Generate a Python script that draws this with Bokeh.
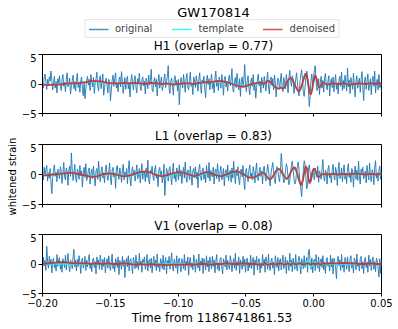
from bokeh.plotting import figure
from bokeh.layouts import column, row
from bokeh.models import Range1d, FixedTicker, Legend, LegendItem, Label
from bokeh.embed import file_html
from bokeh.resources import INLINE
import numpy as np

FONT = "DejaVu Sans"

suptitle = "GW170814"
detectors = ["H1", "L1", "V1"]
overlaps = [0.77, 0.83, 0.08]
legend_labels = ["original", "template", "denoised"]
x_label = "Time from 1186741861.53"
y_label = "whitened strain"
x_ticks = [-0.20, -0.15, -0.10, -0.05, 0.00, 0.05]
x_tick_labels = ["\u22120.20", "\u22120.15", "\u22120.10", "\u22120.05", "0.00", "0.05"]
y_ticks = [-5, 0, 5]
y_tick_labels = ["\u22125", "0", "5"]
t_start, t_end = -0.20, 0.05

# original (whitened) strain samples, evenly spaced from t_start to t_end
orig_H1 = [
    0.3, -0.6, 1.1, 1.7, 0.4, -0.9, 0.8, -0.3, 1.2, 0.5, 2.2, 0.6, -1.0, 0.2, 1.3, -0.7, 0.4, -1.5, 0.9, 0.1,
    1.4, -0.2, -1.1, 0.7, 1.6, -0.4, 0.3, -1.3, 0.8, 1.9, -0.5, 0.2, 1.0, -1.7, -0.3, 0.6, 1.5, -0.8, 0.4, -1.2,
    0.9, 1.8, -0.6, 0.1, -1.4, 0.5, 1.2, -0.9, -2.0, 0.3, -2.5, -0.7, 0.6, 1.3, -0.2, 0.8, -1.1, 1.6, 0.4, -0.5,
    1.1, -1.6, 0.2, 0.9, 2.0, -0.4, -1.2, 0.7, 1.4, -0.8, 0.3, 1.7, -1.9, -0.6, 0.5, 1.0, -0.3, -1.5, 0.8, 0.2,
    -2.8, -1.0, 0.6, 1.5, -0.4, 0.9, 1.9, -0.7, 0.2, -1.3, 0.7, 1.2, -0.5, 2.1, 0.4, -1.6, -0.2, 1.1, -0.9, 0.6,
    1.3, -0.8, 0.3, -2.2, 0.5, 1.6, 0.1, -1.0, 0.8, 1.4, -0.6, -1.5, 0.9, 0.2, 1.8, -0.4, -1.1, 0.7, 1.2, -0.3,
    0.5, -1.7, 1.0, 0.3, -0.8, 1.5, -0.2, 0.6, 2.5, -0.9, -1.3, 0.4, 1.1, -0.5, 0.8, -2.0, 0.2, 1.6, -0.7, 0.3,
    1.2, -1.1, -0.4, 0.9, 1.7, -0.6, 0.4, 1.3, 3.1, -0.8, -1.6, 0.5, 1.0, -0.3, -1.9, 0.7, 1.4, -0.2, 0.6, -1.2,
    0.8, -3.5, -0.9, 1.1, 0.3, -0.7, 1.6, 0.2, -1.4, 0.9, 1.8, -0.5, -1.0, 0.6, 2.0, -0.4, 0.1, -1.8, 1.2, 0.5,
    -0.6, 1.4, 0.3, -1.2, 0.8, 1.9, -0.3, -1.6, 0.7, 0.2, 1.3, -0.9, -2.3, 0.5, 1.5, -0.1, 0.9, -1.0, 0.4, 1.7,
    -0.8, 0.3, -1.5, 1.0, 2.2, -0.4, 0.6, -1.1, 1.2, 0.1, -0.7, 1.6, 0.4, -1.9, 0.8, 1.3, -0.5, 0.2, -1.2, 0.9,
    1.5, -0.3, 0.7, 2.6, -0.9, -1.4, 0.5, 1.1, -0.6, 1.8, 0.2, -1.0, 0.9, -2.1, 0.4, 1.2, -0.5, 0.8, 3.3, -0.2,
    -1.3, 0.6, 1.4, -0.8, -1.8, 0.3, 1.0, -0.4, 1.6, -1.1, 0.2, -2.4, -0.6, 0.9, 1.7, -0.3, 0.5, -1.5, 1.1, 0.4,
    -0.7, 1.3, 0.1, -1.2, 0.8, 2.0, -0.5, -1.7, 0.6, 1.2, -0.2, 0.9, -1.0, 1.5, 0.3, -2.2, -0.4, 1.0, 0.7, -0.9,
    0.5, 1.8, -0.6, -1.3, 1.1, 0.2, -0.8, 1.6, 0.4, -1.5, 0.9, 2.3, 0.6, -0.4, 1.4, 0.8, -1.6, -0.3, 0.7, 1.9,
    0.4, -1.2, -2.0, 0.3, 1.5, 2.4, 0.9, -1.4, -2.1, -0.5, 1.2, 2.2, 1.6, -0.9, -3.8, -2.0, 0.6, 1.7, -0.3, 0.8,
    2.4, 3.1, 0.5, -1.1, -0.6, 0.9, -1.8, 0.3, 1.3, -0.7, 0.6, -1.4, 1.0, 1.8, -0.2, -1.0, 0.5, 1.4, -2.0, 0.2,
    0.9, -0.6, 1.2, -1.3, 0.4, 1.6, -0.9, 0.2, -1.7, 0.8, 1.3, -0.4, 2.0, -1.1, 0.6, -0.8, 1.5, 0.3, -1.2, 2.7,
    -0.5, 0.7, -1.6, 1.1, 0.2, -0.9, 1.8, -0.3, -2.2, 0.6, 1.4, -0.7, 0.3, 1.0, -1.4, 0.8, 2.1, -0.5, -2.8, 0.4,
    1.2, -0.9, 0.5, 1.7, -1.1, -0.2, 0.9, -1.8, 0.6, 1.3, -0.4, 2.2, -1.5, 0.3, 0.8, -1.0, 1.6, -0.6, 0.2, -1.3,
]
orig_L1 = [
    0.5, -0.9, 1.2, -0.2, 0.7, 1.5, -1.1, 0.3, -0.6, 1.0, -1.4, -3.2, -0.5, 0.8, 1.6, -0.3, 0.4, -1.2, 0.9, 0.2,
    -0.7, 1.3, 0.6, -1.5, 0.1, 2.0, -0.4, -0.9, 1.1, 0.5, -1.8, 0.7, 1.4, -0.3, 3.6, 0.8, -1.0, 0.2, 1.7, -0.6,
    -1.3, 0.9, 0.4, -0.8, 1.5, -0.2, 0.6, -2.1, 0.3, 1.2, -0.5, 1.8, -1.0, -0.4, 0.7, 1.1, -1.6, 0.2, 0.9, -0.7,
    1.4, -0.3, -1.9, 0.6, 1.0, -0.8, 2.2, 0.1, -1.2, 0.5, 1.3, -0.6, 0.3, -1.4, 0.8, 1.6, -0.2, -1.0, 0.4, 1.9,
    -0.5, -1.7, 0.7, 1.2, -0.4, 0.3, -2.3, 0.9, 1.5, -0.1, -0.8, 1.1, 0.2, -1.3, 0.6, 1.7, -0.9, 0.4, -0.3, 1.0,
    -1.5, 0.8, 2.3, -0.6, -1.9, 0.5, 1.3, -0.2, 0.7, -1.1, 0.4, 1.6, -0.7, -0.3, 1.0, -1.4, 0.2, 1.8, -0.8, 0.6,
    0.3, -1.2, 1.1, -0.5, 2.4, -0.9, -1.6, 0.7, 0.2, 1.4, -0.4, -1.0, 0.9, 1.5, -0.6, 0.1, -2.0, 0.8, 1.2, -0.3,
    0.6, -1.4, -0.5, 1.7, -3.5, -0.8, 1.0, 0.4, -1.1, 0.9, 1.3, -0.2, -1.7, 0.5, 1.9, -0.7, 0.3, -1.2, 1.1, 0.4,
    -0.9, 1.6, -0.3, 0.7, -1.5, 0.2, 1.2, -0.6, 2.1, -0.4, -1.3, 0.8, 0.5, -0.9, 1.4, -0.1, -1.8, 0.6, 1.0, -0.5,
    1.3, -0.7, 0.4, -2.2, 0.9, 1.7, -0.3, -1.0, 0.6, 1.1, -0.8, 0.3, -1.4, 1.5, 0.2, -0.6, 2.0, -1.1, 0.7, -0.2,
    -0.4, 1.2, -1.6, 0.5, 0.9, -0.7, 1.8, 0.1, -1.2, 0.6, 1.4, -0.9, -0.3, 1.0, -1.9, 0.4, 0.8, -0.5, 1.6, -1.0,
    0.2, 0.7, -1.3, 1.1, -0.6, 2.2, 0.3, -1.5, 0.8, -0.2, 1.3, -0.8, -1.7, 0.6, 0.9, -0.4, 1.5, -1.1, -2.5, 0.5,
    1.0, -0.3, -1.2, 0.8, 1.6, -0.5, 0.2, -0.9, 1.3, 0.4, -1.4, 0.7, 1.9, -0.6, -1.0, 0.5, 1.2, -0.3, 0.6, -1.6,
    0.9, 1.4, -0.4, -1.1, 0.3, 1.7, 0.8, -0.7, -1.9, 0.2, 1.1, 2.0, 0.6, -0.8, -1.5, 0.4, 1.3, 0.7, -0.5, -1.2,
    0.5, 3.5, 1.6, -0.3, -1.4, -0.9, 0.7, 1.8, 1.2, -0.6, -1.7, -1.1, 0.3, 1.5, 2.2, 0.9, -0.8, -1.6, -1.2, 0.4,
    1.3, 2.1, 0.6, -1.0, -2.3, -3.7, -1.4, 0.8, 2.3, 1.7, -0.5, -2.4, -1.8, 0.9, 1.6, 0.4, -1.2, -0.6, 0.7, 0.2,
    -0.9, 1.1, 0.3, -0.5, 1.4, -1.3, 0.6, 0.2, -0.8, 1.0, 2.5, -0.4, -1.1, 0.7, 0.3, -1.6, 0.9, 1.5, -0.6, 0.1,
    -1.4, 0.8, 1.7, -0.2, -0.9, 1.2, 0.4, -1.8, 0.6, 2.0, -0.7, -0.3, 1.1, -1.2, 0.5, 1.6, -0.8, 0.2, -1.5, 0.9,
    1.8, -0.5, 0.3, -1.3, 1.0, 0.6, -2.1, 0.4, 1.4, -0.8, 0.7, -1.0, 2.2, -0.4, -1.6, 0.9, 0.3, 1.2, -0.7, -0.2,
    0.6, -1.4, 1.5, 0.2, -0.9, 1.9, -0.5, -1.2, 0.8, 0.4, -1.7, 1.1, 2.3, -0.6, 0.3, -1.1, 0.7, 1.4, -0.8, 0.5,
]
orig_V1 = [
    -0.8, 1.2, -0.3, 0.6, -1.1, 3.0, 0.4, -0.7, 1.3, -0.2, 0.8, -1.5, 0.5, 1.0, -0.6, 0.2, -1.2, 1.6, -0.4, 0.7,
    1.1, -0.9, 0.3, -1.4, 0.9, 0.1, -0.6, 1.5, -1.0, 0.4, 1.8, -0.3, -1.3, 0.7, 0.2, -0.8, 1.2, 2.5, -0.5, 0.6,
    -1.2, 0.8, -0.4, 1.4, 0.3, -1.6, 0.5, 1.0, -0.7, -0.1, 1.3, -1.1, 0.6, -0.5, 0.9, 1.6, -0.8, 0.2, -1.3, 0.7,
    1.0, -0.6, 0.4, -1.7, 1.2, -0.2, 0.7, -0.9, 1.5, 0.3, -1.0, 0.8, -0.4, 1.1, -1.5, 0.2, 0.9, -0.7, 1.4, -0.3,
    -1.1, 0.5, 1.7, -0.8, 0.2, -1.3, 0.9, 0.4, -0.6, 1.2, -1.8, 0.6, 0.1, -0.9, 1.3, -0.4, 0.7, -2.3, 0.3, 1.0,
    -0.5, 1.4, -1.2, 0.6, 0.9, -0.3, -1.6, 1.1, 0.2, -0.8, 1.5, -0.6, 0.4, -1.0, 1.8, -0.2, 0.5, -1.4, 0.8, 0.3,
    1.2, -0.9, -0.3, 1.6, -1.2, 0.5, 0.8, -0.7, 1.0, -1.5, 0.2, 1.3, -0.4, 0.7, -1.1, 1.7, -0.6, 0.1, -1.3, 0.9,
    0.4, -0.8, 1.5, -1.0, 0.3, 1.1, -1.7, 0.6, -0.2, 1.3, -0.9, 0.5, 1.9, -0.5, -1.2, 0.8, 0.2, -0.7, 1.4, -1.6,
    0.7, 1.0, -0.4, -1.3, 0.9, 0.3, -0.8, 1.6, -1.1, 0.5, -0.3, 1.2, -1.9, 0.6, 1.1, -0.6, 0.2, -1.0, 1.5, 0.4,
    -1.4, 0.8, 0.2, -0.7, 1.7, -1.2, 0.5, -0.2, 1.0, -1.6, 0.9, 0.3, -1.0, 1.4, -0.5, 0.6, -1.3, 1.2, 0.1, -0.8,
    1.3, -0.4, 0.7, -1.5, 0.4, 1.6, -0.9, 0.2, -1.2, 0.8, 1.1, -0.6, -1.7, 0.9, 0.3, -0.5, 1.5, -1.0, 0.6, -0.2,
    -0.9, 1.4, 0.5, -1.3, 0.2, 0.9, -0.7, 1.8, -1.1, 0.4, -0.3, 1.2, -1.6, 0.7, 0.1, -0.9, 1.3, -0.4, 0.8, -1.4,
    0.6, 1.0, -1.2, 0.3, -0.6, 1.5, -0.8, 0.4, 1.1, -1.9, 0.7, -0.2, 1.3, -1.0, 0.5, 0.9, -1.5, 0.2, -0.7, 1.6,
    -0.3, 0.8, -1.4, 1.2, 0.4, -0.9, 1.7, -0.5, -1.1, 0.6, 1.0, -0.7, 0.3, -1.8, 1.4, 0.2, -0.6, 1.1, -1.2, 0.5,
    0.9, -1.0, 0.4, 1.5, -0.8, -0.2, 1.2, -1.6, 0.6, 0.3, -1.1, 1.8, -0.4, 0.7, -1.3, 1.0, 0.2, -0.9, 1.6, -0.5,
    -1.2, 0.6, 1.3, -0.3, -1.7, 0.9, 0.4, -0.8, 1.4, -0.6, 0.2, 1.1, -1.4, 2.1, 2.5, 0.3, -0.9, 1.0, -1.5, 0.6,
    0.8, -1.1, 1.6, -0.2, -0.7, 1.2, -1.3, 0.5, 0.9, -0.6, 1.4, -1.0, 0.3, -1.6, 0.7, 1.1, -0.4, 0.2, -1.2, 1.5,
    -0.5, 0.9, -1.7, 1.0, 0.4, -0.8, -2.5, 0.6, 1.3, -0.3, 0.7, -1.1, 1.6, -0.6, 0.2, -1.4, 1.1, 0.5, -0.9, 1.2,
    -0.2, -1.3, 0.8, 1.4, -0.7, 0.3, -1.5, 1.0, 0.6, -1.0, 1.7, -0.4, 0.2, -1.2, 0.9, 1.3, -0.8, 0.4, -1.6, 0.7,
    1.1, -0.6, 0.3, -1.4, 1.5, -0.3, 0.8, -1.1, 0.5, 1.2, -0.9, 0.4, -1.3, 1.0, 0.6, -0.7, -2.2, 0.9, -1.6, 0.8,
]

# sample times of the smooth curves (template / denoised): coarse, fine near merger, coarse
t_smooth = np.round(np.concatenate([
    np.arange(-0.200, -0.0399, 0.004),
    np.arange(-0.039, 0.0101, 0.001),
    np.arange(0.014, 0.0501, 0.004),
]), 4)

den_H1 = [
    -0.1, -0.2, -0.1, -0.1, 0.0, 0.1, 0.1, 0.2, 0.3, 0.5, 0.5, 0.4, 0.2, 0.1, 0.1, 0.2, 0.1, 0.2, 0.1, 0.0,
    0.2, 0.1, 0.0, 0.1, -0.1, 0.0, 0.1, 0.1, 0.0, 0.2, 0.3, 0.3, 0.5, 0.5, 0.3, 0.0, -0.3, -0.5, -0.2, 0.1, 0.2,
    0.2, 0.1, 0.0, 0.1, 0.3, 0.5, 0.5, 0.3, 0.1, -0.2, -0.4, -0.6, -0.7, -0.8, -0.7, -0.6, -0.8, -0.7, -0.3, 0.2,
    0.6, 0.9, 1.0, 0.8, 0.4, -0.1, -0.6, -1.0, -1.3, -1.0, -0.4, 0.4, 1.2, 1.8, 1.3, 0.0, -1.4, -1.8, -0.8, 0.6,
    1.5, 1.0, 0.0, -0.6, -0.4, 0.0, 0.2, 0.1, 0.0, -0.1,
    0.1, 0.0, 0.1, -0.1, 0.0, 0.1, 0.0, 0.1, 0.0, 0.1,
]
tmpl_H1 = [
    -0.1, -0.1, -0.1, 0.0, 0.0, 0.1, 0.1, 0.2, 0.3, 0.4, 0.4, 0.3, 0.2, 0.1, 0.1, 0.1, 0.1, 0.1, 0.1, 0.0,
    0.1, 0.1, 0.0, 0.0, 0.0, 0.0, 0.1, 0.1, 0.0, 0.1, 0.2, 0.3, 0.4, 0.4, 0.3, 0.1, -0.2, -0.3, -0.2, 0.0, 0.1,
    0.2, 0.1, 0.0, 0.1, 0.3, 0.4, 0.4, 0.3, 0.0, -0.3, -0.5, -0.6, -0.7, -0.7, -0.6, -0.5, -0.6, -0.5, -0.2, 0.2,
    0.6, 0.8, 0.9, 0.7, 0.3, -0.2, -0.6, -1.0, -1.2, -0.9, -0.3, 0.4, 1.1, 1.5, 1.1, 0.0, -1.2, -1.5, -0.7, 0.5,
    1.2, 0.8, 0.0, -0.4, -0.2, 0.0, 0.1, 0.0, 0.0, 0.0,
    0.0, 0.0, 0.0, 0.0, 0.0, 0.0, 0.0, 0.0, 0.0, 0.0,
]
den_L1 = [
    -0.2, -0.1, 0.0, 0.1, 0.2, 0.3, 0.2, 0.0, -0.2, -0.4, -0.3, 0.0, 0.2, 0.1, -0.1, -0.3, -0.2, 0.1, 0.4, 0.5,
    0.3, -0.1, -0.3, -0.1, 0.2, 0.4, 0.3, 0.0, -0.3, 0.0, 0.4, 0.3, -0.1, -0.3, 0.0, 0.4, 0.5, 0.1, -0.5, -0.5, 0.0,
    0.2, 0.3, 0.3, 0.1, -0.2, -0.5, -0.8, -0.8, -0.6, -0.3, 0.1, 0.5, 0.8, 0.9, 0.9, 0.6, 0.2, -0.2, -0.5, -0.7,
    -0.6, -0.2, 0.3, 0.8, 1.1, 1.2, 0.8, 0.1, -0.8, -1.5, -1.8, -1.0, 0.3, 1.4, 1.0, -0.6, -1.5, -0.8, 0.4, 1.0,
    0.8, 0.2, -0.3, -0.4, -0.2, 0.0, 0.1, 0.1, 0.0, 0.0,
    0.1, 0.0, 0.1, 0.0, 0.1, 0.1, 0.0, 0.1, 0.0, 0.1,
]
tmpl_L1 = [
    -0.1, 0.0, 0.1, 0.2, 0.3, 0.3, 0.2, 0.0, -0.2, -0.3, -0.3, -0.1, 0.1, 0.2, 0.0, -0.2, -0.3, -0.1, 0.2, 0.4,
    0.3, 0.0, -0.3, -0.3, 0.0, 0.3, 0.4, 0.1, -0.3, -0.2, 0.2, 0.4, 0.1, -0.3, -0.2, 0.2, 0.5, 0.2, -0.3, -0.6, -0.2,
    0.2, 0.4, 0.4, 0.2, -0.1, -0.5, -0.7, -0.8, -0.6, -0.2, 0.2, 0.6, 0.8, 0.9, 0.8, 0.5, 0.1, -0.3, -0.7, -0.8,
    -0.6, -0.1, 0.4, 0.9, 1.1, 1.0, 0.5, -0.2, -1.0, -1.5, -1.5, -0.7, 0.5, 1.3, 1.1, -0.3, -1.3, -0.9, 0.3, 0.9,
    0.6, 0.1, -0.2, -0.2, -0.1, 0.0, 0.0, 0.0, 0.0, 0.0,
    0.0, 0.0, 0.0, 0.0, 0.0, 0.0, 0.0, 0.0, 0.0, 0.0,
]
den_V1 = [
    0.0, 0.1, 0.2, 0.3, 0.3, 0.2, 0.1, 0.1, 0.1, 0.0, 0.1, 0.0, 0.1, 0.0, 0.0, 0.1, 0.0, -0.1, 0.0, -0.1,
    0.0, -0.1, -0.1, -0.2, -0.1, -0.1, -0.1, 0.0, -0.1, 0.0, 0.0, -0.1, 0.0, 0.0, 0.1, 0.0, 0.0, 0.1, 0.0, 0.0, -0.1,
    0.0, -0.1, 0.0, 0.1, 0.0, -0.1, -0.1, 0.0, 0.0, 0.1, 0.0, -0.1, 0.0, 0.0, 0.1, 0.1, 0.0, -0.1, -0.1, 0.0,
    0.1, 0.0, -0.1, 0.0, 0.1, 0.0, -0.1, 0.0, 0.1, 0.1, 0.0, -0.1, -0.1, 0.0, 0.1, 0.1, 0.0, -0.1, 0.0, 0.1,
    0.0, 0.0, 0.1, 0.0, -0.1, 0.0, 0.1, 0.1, 0.0, 0.1,
    0.1, 0.1, 0.2, 0.1, 0.1, 0.0, 0.0, 0.1, 0.0, 0.0,
]
tmpl_V1 = [
    0.0, 0.0, 0.0, 0.0, 0.0, 0.0, 0.0, 0.0, 0.0, 0.0, 0.0, 0.0, 0.0, 0.0, 0.0, 0.0, 0.0, 0.0, 0.0, 0.0,
    0.0, 0.0, 0.0, 0.0, 0.0, 0.0, 0.0, 0.0, 0.0, 0.0, 0.0, 0.0, 0.0, 0.0, 0.0, 0.0, 0.0, 0.0, 0.0, 0.0, 0.0,
    0.0, 0.0, 0.0, 0.0, 0.0, 0.0, 0.0, 0.0, 0.1, 0.1, 0.0, -0.1, -0.1, 0.0, 0.1, 0.1, 0.0, -0.1, -0.2, -0.1,
    0.1, 0.2, 0.2, 0.0, -0.2, -0.3, -0.1, 0.2, 0.4, 0.3, -0.1, -0.4, -0.4, 0.1, 0.5, 0.4, -0.2, -0.5, -0.2, 0.3,
    0.4, 0.1, -0.1, -0.1, 0.0, 0.0, 0.0, 0.0, 0.0, 0.0,
    0.0, 0.0, 0.0, 0.0, 0.0, 0.0, 0.0, 0.0, 0.0, 0.0,
]

originals = [orig_H1, orig_L1, orig_V1]
templates = [tmpl_H1, tmpl_L1, tmpl_V1]
denoiseds = [den_H1, den_L1, den_V1]

C_ORIG = "#1f77b4"
C_TMPL = "#00ffff"
C_DEN = "#d62728"

TOTAL_H = 329
YLAB_W = 18
W = 398 - YLAB_W
LEFT, RIGHT = 21, 17
FRAME_W = W - LEFT - RIGHT
HEADER_H = 39
TITLE_H = 14
panel_heights = [76, 76, 96]
panel_bottoms = [16, 15, 36]


def text_strip(width, height, left, right):
    s = figure(width=width, height=height, x_range=Range1d(0, 1), y_range=Range1d(0, 1),
               x_axis_type=None, y_axis_type=None, toolbar_location=None, output_backend="svg",
               min_border_left=left, min_border_right=right, min_border_top=0, min_border_bottom=0)
    s.outline_line_color = None
    s.grid.visible = False
    return s


def style_axes(p, show_xlabels):
    p.xaxis.ticker = FixedTicker(ticks=x_ticks)
    p.xaxis.major_label_overrides = {float(k): v for k, v in zip(x_ticks, x_tick_labels)}
    p.yaxis.ticker = FixedTicker(ticks=y_ticks)
    p.yaxis.major_label_overrides = {k: v for k, v in zip(y_ticks, y_tick_labels)}
    for ax in (p.xaxis[0], p.yaxis[0]):
        ax.major_tick_in = 0
        ax.minor_tick_out = 0
        ax.minor_tick_in = 0
        ax.axis_line_color = "black"
        ax.major_tick_line_color = "black"
        ax.major_label_text_font = FONT
        ax.major_label_text_font_size = "10px"
        ax.major_label_text_color = "black"
        ax.axis_label_text_font = FONT
        ax.axis_label_text_font_style = "normal"
        ax.axis_label_text_color = "black"
    p.xaxis.major_tick_out = 3
    p.xaxis.major_label_standoff = 2
    p.yaxis.major_tick_out = 4
    p.yaxis.major_label_standoff = 2
    if not show_xlabels:
        p.xaxis.major_label_text_color = None
    else:
        p.xaxis.axis_label = x_label
        p.xaxis.axis_label_text_font_size = "12px"
        p.xaxis.axis_label_standoff = 1
    p.grid.visible = False
    p.outline_line_color = "black"
    p.outline_line_alpha = 1


# left strip holding the shared y-axis label
ystrip = text_strip(YLAB_W, TOTAL_H, 0, 0)
ystrip.add_layout(Label(x=12, y=TOTAL_H - 176, x_units="screen", y_units="screen",
                        text=y_label, angle=np.pi / 2, text_align="center", text_baseline="middle",
                        text_font=FONT, text_font_size="10px", text_color="black"))

# header: suptitle and legend
head = text_strip(W, HEADER_H, LEFT, RIGHT)
head.add_layout(Label(x=FRAME_W / 2, y=HEADER_H - 12, x_units="screen", y_units="screen",
                      text=suptitle, text_align="center", text_baseline="middle",
                      text_font=FONT, text_font_size="13px", text_color="black"))
leg_r = [head.line(x=[np.nan], y=[np.nan], line_color=c, line_width=1.5, line_alpha=0.8)
         for c in (C_ORIG, C_TMPL, C_DEN)]
leg = Legend(items=[LegendItem(label=lab, renderers=[r]) for lab, r in zip(legend_labels, leg_r)],
             orientation="horizontal", location="bottom_center",
             label_text_font=FONT, label_text_font_size="10px",
             glyph_width=20, glyph_height=10, label_height=10, label_standoff=7,
             spacing=19, padding=3, margin=1,
             border_line_color="#cccccc", background_fill_alpha=0.8)
head.add_layout(leg, "center")

figs = [head]
for i, det in enumerate(detectors):
    last = i == len(detectors) - 1
    strip = text_strip(W, TITLE_H, LEFT, RIGHT)
    strip.add_layout(Label(x=FRAME_W / 2, y=8, x_units="screen", y_units="screen",
                           text=f"{det} (overlap = {overlaps[i]:.2f})", text_align="center",
                           text_baseline="middle", text_font=FONT, text_font_size="12px",
                           text_color="black"))
    figs.append(strip)

    p = figure(width=W, height=panel_heights[i], x_range=Range1d(t_start, t_end), y_range=Range1d(-5, 5),
               toolbar_location=None, output_backend="svg",
               min_border_left=LEFT, min_border_right=RIGHT,
               min_border_top=1, min_border_bottom=panel_bottoms[i])
    y = originals[i]
    t = np.linspace(t_start, t_end, len(y))
    p.line(t, y, line_color=C_ORIG, line_width=1.0, line_alpha=0.9)
    p.line(t_smooth, templates[i], line_color=C_TMPL, line_width=1.5)
    p.line(t_smooth, denoiseds[i], line_color=C_DEN, line_width=1.8, line_alpha=0.9)
    style_axes(p, last)
    figs.append(p)

layout = row(ystrip, column(*figs, spacing=0), spacing=0)
open("out.html", "w").write(file_html(layout, INLINE))
